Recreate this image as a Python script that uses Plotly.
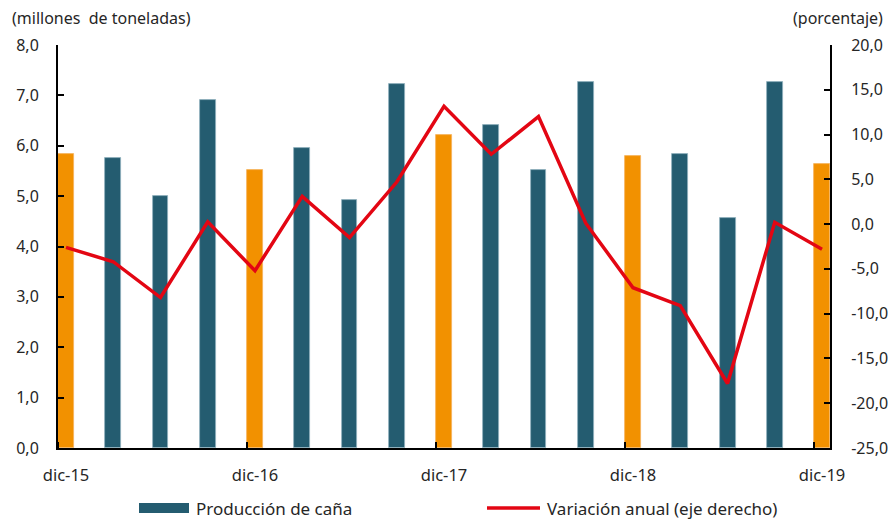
import plotly.graph_objects as go

# Quarterly periods dic-15 ... dic-19
periods = ["dic-15", "mar-16", "jun-16", "sep-16", "dic-16", "mar-17", "jun-17", "sep-17",
           "dic-17", "mar-18", "jun-18", "sep-18", "dic-18", "mar-19", "jun-19", "sep-19", "dic-19"]
produccion = [5.83, 5.75, 5.00, 6.90, 5.52, 5.95, 4.92, 7.22,
              6.22, 6.42, 5.52, 7.26, 5.80, 5.83, 4.56, 7.26, 5.63]
variacion = [-2.6, -4.2, -8.2, 0.25, -5.2, 3.1, -1.5, 4.7,
             13.15, 7.8, 12.0, 0.1, -7.1, -9.1, -17.8, 0.2, -2.8]
tick_labels = ["dic-15", "dic-16", "dic-17", "dic-18", "dic-19"]
left_ticks = [0, 1, 2, 3, 4, 5, 6, 7, 8]
right_ticks = [-25, -20, -15, -10, -5, 0, 5, 10, 15, 20]

BAR_W = 0.338
idx = list(range(len(periods)))
xc = [i + BAR_W / 2 for i in idx]
is_dec = [p.startswith("dic") for p in periods]
TEAL = "#245C70"
ORANGE = "#F29100"
RED = "#E30613"
bar_colors = [ORANGE if d else TEAL for d in is_dec]
edge_colors = ["#F5B35C" if d else "#8FB1BE" for d in is_dec]

FONT = "Noto Sans"
TXT = "#262626"

def fmt(v):
    return f"{v:.1f}".replace(".", ",")

fig = go.Figure()
fig.add_trace(go.Bar(
    x=xc, y=produccion, width=BAR_W, name="Producción de caña",
    marker=dict(color=bar_colors, line=dict(color=edge_colors, width=0.8)),
    showlegend=False,
))
fig.add_trace(go.Scatter(
    x=xc, y=variacion, yaxis="y2", mode="lines", name="Variación anual (eje derecho)",
    line=dict(color=RED, width=3.5), showlegend=False,
))

tickvals_major = [xc[i] for i, p in enumerate(periods) if p in tick_labels]
tickvals_minor = [i for i, p in enumerate(periods) if p in tick_labels]

# plot area geometry (pixels) for legend placement in paper coords
L, R, T, B = 58, 65, 45, 72
PW, PH = 895 - L - R, 520 - T - B
def px(x):
    return (x - L) / PW
def py(y):
    return (520 - B - y) / PH

shapes = [
    dict(type="rect", xref="paper", yref="paper", x0=px(139), x1=px(189), y0=py(513), y1=py(503),
         fillcolor=TEAL, line=dict(width=0)),
    dict(type="line", xref="paper", yref="paper", x0=px(487), x1=px(540), y0=py(508), y1=py(508),
         line=dict(color=RED, width=3.5)),
]

fig.update_layout(
    width=895, height=520,
    margin=dict(l=L, r=R, t=T, b=B, autoexpand=False),
    paper_bgcolor="white", plot_bgcolor="white",
    font=dict(family=FONT, size=16, color=TXT),
    bargap=0,
    showlegend=False,
    xaxis=dict(
        range=[0, 16 + BAR_W], tickmode="array", tickvals=tickvals_major, ticktext=tick_labels,
        ticks="", showgrid=False, zeroline=False, automargin=False,
        showline=True, linecolor="black", linewidth=2, ticklabelstandoff=11,
        tickfont=dict(size=16.5, color=TXT),
        minor=dict(tickmode="array", tickvals=tickvals_minor, ticks="inside",
                   ticklen=6, tickwidth=2, tickcolor="black", showgrid=False),
    ),
    yaxis=dict(
        range=[0, 8], tickmode="array", tickvals=left_ticks, ticktext=[fmt(v) for v in left_ticks],
        ticks="inside", ticklen=6, tickwidth=2, automargin=False,
        tickcolor="black", showgrid=False, zeroline=False,
        showline=True, linecolor="black", linewidth=2, ticklabelstandoff=14,
        tickfont=dict(size=16, color=TXT),
    ),
    yaxis2=dict(
        range=[-25, 20], tickmode="array", tickvals=right_ticks, ticktext=[fmt(v) for v in right_ticks],
        overlaying="y", side="right", automargin=False,
        ticks="inside", ticklen=6, tickwidth=2, tickcolor="black",
        showgrid=False, zeroline=False, showline=True, linecolor="black", linewidth=2,
        ticklabelstandoff=16,
        tickfont=dict(size=16, color=TXT),
    ),
    shapes=shapes,
    annotations=[
        dict(text="(millones  de toneladas)", xref="paper", yref="paper", x=px(10), y=1.0,
             xanchor="left", yanchor="bottom", yshift=14, showarrow=False,
             font=dict(size=16, color=TXT)),
        dict(text="(porcentaje)", xref="paper", yref="paper", x=px(885), y=1.0,
             xanchor="right", yanchor="bottom", yshift=14, showarrow=False,
             font=dict(size=16, color=TXT)),
        dict(text="Producción de caña", xref="paper", yref="paper", x=px(194), y=py(508),
             xanchor="left", yanchor="middle", showarrow=False,
             font=dict(size=17, color=TXT)),
        dict(text="Variación anual (eje derecho)", xref="paper", yref="paper", x=px(545), y=py(508),
             xanchor="left", yanchor="middle", showarrow=False,
             font=dict(size=17, color=TXT)),
    ],
)

fig.write_html("out.html", config={"displayModeBar": False},
               post_script="document.body.style.margin='0';document.body.style.overflow='hidden';")
